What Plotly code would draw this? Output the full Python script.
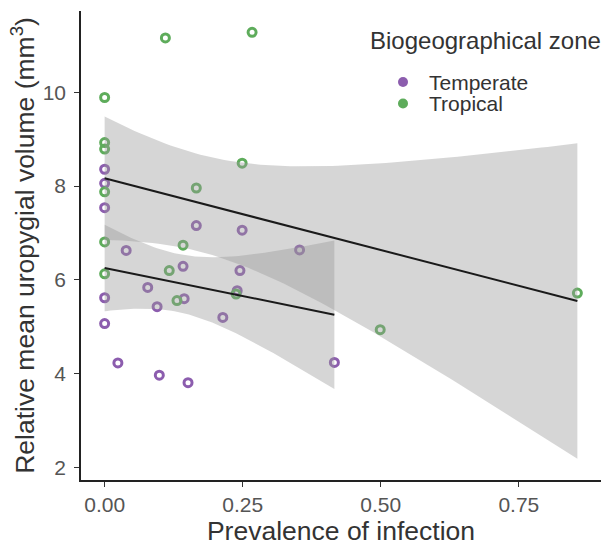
import numpy as np
import plotly.graph_objects as go

# ---- data ----
temperate_x = [0, 0, 0, 0.166, 0.249, 0.039, 0.353, 0.142, 0.245, 0.078,
               0.240, 0, 0.144, 0.095, 0.214, 0, 0.024, 0.099, 0.151, 0.416]
temperate_y = [8.36, 8.06, 7.54, 7.16, 7.06, 6.63, 6.64, 6.29, 6.20, 5.84,
               5.77, 5.62, 5.60, 5.43, 5.20, 5.07, 4.23, 3.97, 3.81, 4.24]
tropical_x = [0.110, 0.267, 0, 0, 0, 0.249, 0, 0.166, 0, 0.142,
              0, 0.117, 0.131, 0.238, 0.856, 0.499]
tropical_y = [11.16, 11.28, 9.89, 8.93, 8.79, 8.49, 7.88, 7.96, 6.81, 6.74,
              6.13, 6.20, 5.56, 5.70, 5.72, 4.94]
zones = ["Temperate", "Tropical"]
zone_colors = {"Temperate": "#8C5DAE", "Tropical": "#5EAC5B"}
x_ticks = [0, 0.25, 0.5, 0.75]
y_ticks = [2, 4, 6, 8, 10]
legend_title = "Biogeographical zone"

# Student t 0.975 quantiles for the residual degrees of freedom
T975 = {14: 2.1448, 18: 2.1009}


def lm_band(x, y, n_grid=80):
    x = np.asarray(x, float)
    y = np.asarray(y, float)
    n = len(x)
    b1, b0 = np.polyfit(x, y, 1)
    resid = y - (b0 + b1 * x)
    s = np.sqrt(np.sum(resid ** 2) / (n - 2))
    xbar = x.mean()
    sxx = np.sum((x - xbar) ** 2)
    xg = np.linspace(x.min(), x.max(), n_grid)
    yg = b0 + b1 * xg
    se = s * np.sqrt(1.0 / n + (xg - xbar) ** 2 / sxx)
    t = T975[n - 2]
    return xg, yg, yg - t * se, yg + t * se


groups = {
    "Temperate": (temperate_x, temperate_y),
    "Tropical": (tropical_x, tropical_y),
}

FONT = "Liberation Sans, Arial, sans-serif"
W, H = 606, 546
ML, MR, MT, MB = 81, 5, 11, 66
PW, PH = W - ML - MR, H - MT - MB


def px_x(px):
    return (px - ML) / PW


def px_y(py):
    return (H - MB - py) / PH


fig = go.Figure()

# points (drawn beneath the smooths)
for z in zones:
    gx, gy = groups[z]
    fig.add_trace(go.Scatter(
        x=gx, y=gy, mode="markers", showlegend=False, name=z,
        marker=dict(symbol="circle-open", size=8, color=zone_colors[z],
                    line=dict(width=3, color=zone_colors[z])),
        hoverinfo="x+y"))

# smooths: ribbon + line per group
ymins, ymaxs = [], []
for z in zones:
    gx, gy = groups[z]
    xg, yg, lo, hi = lm_band(gx, gy)
    ymins.append(lo.min())
    ymaxs.append(hi.max())
    fig.add_trace(go.Scatter(
        x=np.concatenate([xg, xg[::-1]]), y=np.concatenate([hi, lo[::-1]]),
        mode="lines", fill="toself", fillcolor="rgba(153,153,153,0.4)",
        line=dict(width=0), showlegend=False, hoverinfo="skip"))
    fig.add_trace(go.Scatter(
        x=xg, y=yg, mode="lines", line=dict(color="#1a1a1a", width=2),
        showlegend=False, hoverinfo="skip"))

all_x = temperate_x + tropical_x
xmin, xmax = min(all_x), max(all_x)
xpad = 0.05 * (xmax - xmin)
ylo = min(ymins + temperate_y + tropical_y)
yhi = max(ymaxs + temperate_y + tropical_y)
ypad = 0.05 * (yhi - ylo)

axis_common = dict(
    showline=True, linecolor="#222222", linewidth=1.6,
    ticks="outside", ticklen=5, tickwidth=1.3, tickcolor="#333333",
    tickfont=dict(family=FONT, size=21, color="#555555"),
    showgrid=False, zeroline=False, automargin=False,
)

# legend drawn inside the panel (title, keys, labels)
annotations = [dict(
    text=legend_title, xref="paper", yref="paper",
    x=px_x(368), y=px_y(41), xanchor="left", yanchor="middle",
    showarrow=False, font=dict(family=FONT, size=24, color="#333333"))]
shapes = []
key_rows = [82, 103.5]
for z, row in zip(zones, key_rows):
    annotations.append(dict(
        text=z, xref="paper", yref="paper", x=px_x(427), y=px_y(row),
        xanchor="left", yanchor="middle", showarrow=False,
        font=dict(family=FONT, size=21, color="#333333")))
    shapes.append(dict(
        type="circle", xref="paper", yref="paper",
        xsizemode="pixel", ysizemode="pixel",
        xanchor=px_x(403), yanchor=px_y(row),
        x0=-5, x1=5, y0=-5, y1=5,
        fillcolor=zone_colors[z], line=dict(width=0)))

fig.update_layout(
    width=W, height=H, showlegend=False,
    margin=dict(l=ML, r=MR, t=MT, b=MB),
    paper_bgcolor="white", plot_bgcolor="white",
    font=dict(family=FONT, color="#333333"),
    xaxis=dict(range=[xmin - xpad, xmax + xpad], tickvals=x_ticks,
               tickformat=".2f",
               title=dict(text="Prevalence of infection", standoff=4,
                          font=dict(family=FONT, size=26.5, color="#333333")),
               **axis_common),
    yaxis=dict(range=[ylo - ypad, yhi + ypad], tickvals=y_ticks,
               ticklabelstandoff=4,
               title=dict(text="Relative mean uropygial volume (mm<sup>3</sup>)",
                          standoff=0,
                          font=dict(family=FONT, size=26.5, color="#333333")),
               **axis_common),
    annotations=annotations,
    shapes=shapes,
)

fig.write_html(
    "out.html",
    config={"displayModeBar": False},
    post_script="document.body.style.margin='0';document.body.style.padding='0';",
)
